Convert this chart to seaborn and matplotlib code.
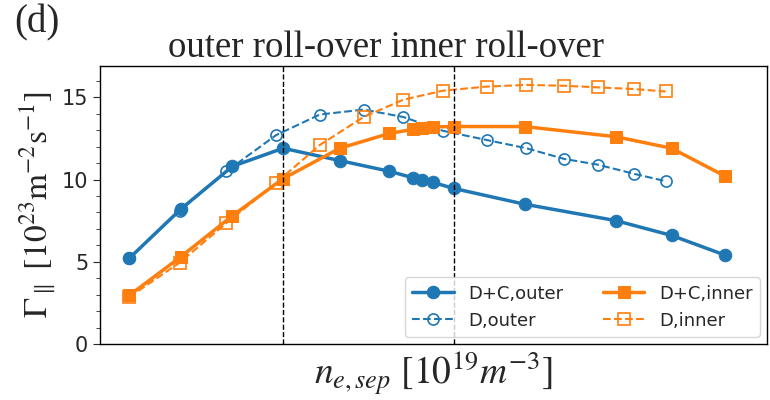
import matplotlib
matplotlib.use("Agg")
import matplotlib.pyplot as plt
import seaborn as sns
import pandas as pd
from matplotlib.ticker import MultipleLocator

# n_e,sep scan (arbitrary position along the scan)
ne_dc = [1.0, 1.26, 1.52, 1.775, 2.06, 2.31, 2.43, 2.475, 2.53, 2.633, 2.99, 3.45, 3.73, 4.0]
ne_d = [1.0, 1.255, 1.49, 1.74, 1.96, 2.18, 2.38, 2.58, 2.8, 3.0, 3.19, 3.36, 3.54, 3.7]

dc_outer = [5.2, 8.2, 10.8, 11.9, 11.15, 10.5, 10.1, 9.97, 9.82, 9.46, 8.5, 7.5, 6.6, 5.4]
dc_inner = [2.95, 5.3, 7.8, 10.05, 11.9, 12.8, 13.05, 13.12, 13.2, 13.22, 13.22, 12.6, 11.9, 10.2]
d_outer = [5.2, 8.1, 10.5, 12.7, 13.95, 14.25, 13.8, 12.96, 12.4, 11.9, 11.25, 10.9, 10.35, 9.9]
d_inner = [2.85, 4.95, 7.35, 9.8, 12.1, 13.8, 14.85, 15.4, 15.65, 15.75, 15.7, 15.6, 15.5, 15.35]

rollover_outer = ne_dc[3]
rollover_inner = ne_dc[9]

df_dc = pd.DataFrame({"ne": ne_dc, "outer": dc_outer, "inner": dc_inner})
df_d = pd.DataFrame({"ne": ne_d, "outer": d_outer, "inner": d_inner})

sns.set_style("ticks")
plt.rcParams["font.family"] = ["DejaVu Sans"]
plt.rcParams["mathtext.fontset"] = "stix"

blue = "#1f77b4"
orange = "#ff7f0e"

fig, ax = plt.subplots(figsize=(7.7, 4.0), dpi=100)
fig.subplots_adjust(left=0.13, right=0.996, bottom=0.14, top=0.835)

sns.lineplot(data=df_dc, x="ne", y="outer", ax=ax, color=blue, marker="o",
             markersize=9, linewidth=2.5, mec=blue, label="D+C,outer", errorbar=None)
sns.lineplot(data=df_d, x="ne", y="outer", ax=ax, color=blue, marker="o",
             markersize=8, linewidth=1.5, linestyle="--", mfc="none", mec=blue,
             mew=1.2, label="D,outer", errorbar=None)
sns.lineplot(data=df_dc, x="ne", y="inner", ax=ax, color=orange, marker="s",
             markersize=9, linewidth=2.5, mec=orange, label="D+C,inner", errorbar=None)
sns.lineplot(data=df_d, x="ne", y="inner", ax=ax, color=orange, marker="s",
             markersize=8, linewidth=1.5, linestyle="--", mfc="none", mec=orange,
             mew=1.2, label="D,inner", errorbar=None)

ax.axvline(rollover_outer, color="black", linestyle="--", linewidth=1.0)
ax.axvline(rollover_inner, color="black", linestyle="--", linewidth=1.0)

ax.set_xlim(0.854, 4.21)
ax.set_ylim(0, 16.9)
ax.set_xticks([])
ax.set_yticks([0, 5, 10, 15])
ax.yaxis.set_minor_locator(MultipleLocator(1))
ax.tick_params(axis="y", which="major", labelsize=15, length=5)
ax.tick_params(axis="y", which="minor", length=3)
for s in ax.spines.values():
    s.set_color("black")
    s.set_linewidth(1.0)

ax.set_xlabel(r"$n_{e,sep}\ [10^{19}m^{-3}]$", fontsize=27, labelpad=4)
ax.set_ylabel(r"$\Gamma_{\parallel}\ [10^{23}\mathrm{m}^{-2}\mathrm{s}^{-1}]$", fontsize=24,
              labelpad=3)

ax.legend(ncol=2, loc="lower right", fontsize=13, handlelength=2.3,
          columnspacing=2.2, borderaxespad=0.4)

ax.text(0.102, 1.005, "outer roll-over inner roll-over", transform=ax.transAxes,
        fontsize=26.5, family="Liberation Serif", ha="left", va="bottom")
fig.text(0.018, 0.99, "(d)", fontsize=28, family="Liberation Serif",
         ha="left", va="top")

plt.savefig("out.png", dpi=100)
